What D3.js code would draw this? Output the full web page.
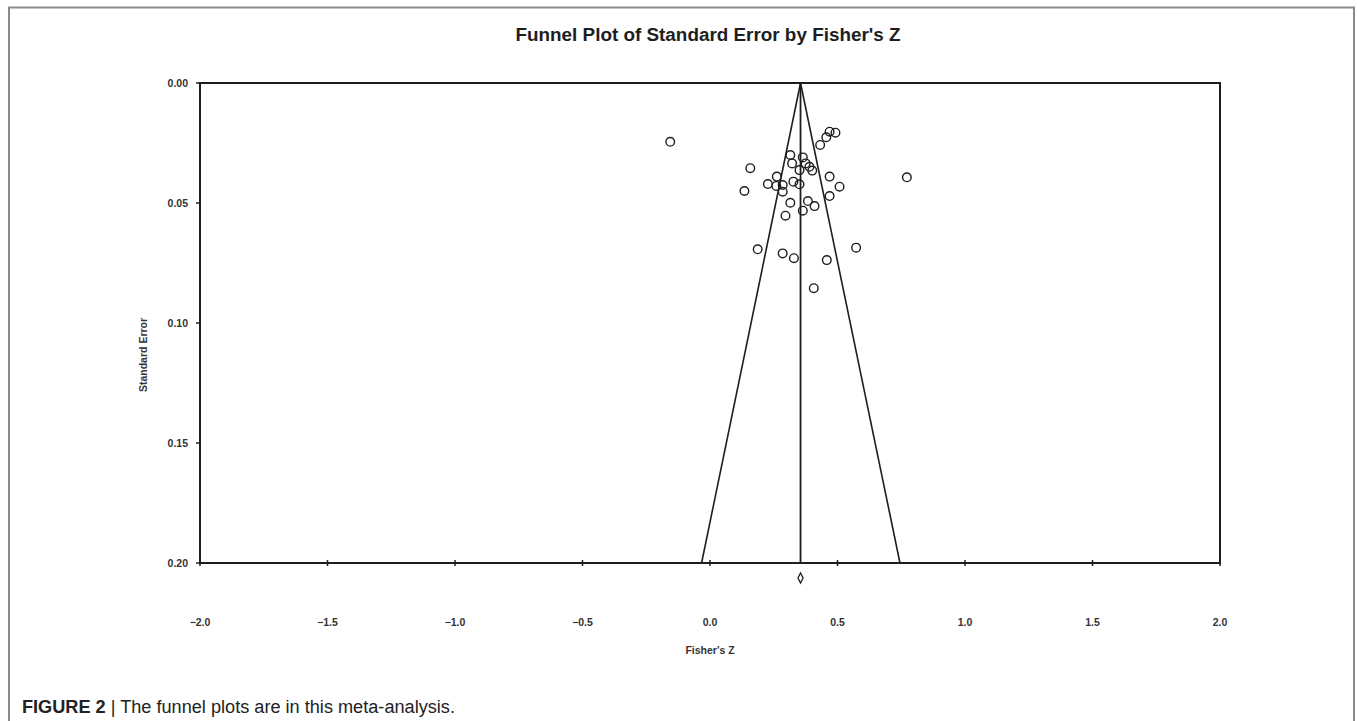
<!DOCTYPE html>
<html>
<head>
<meta charset="utf-8">
<script src="https://cdn.jsdelivr.net/npm/d3@7"></script>
<style>
  body { margin: 0; background: #fff; }
  svg { display: block; font-family: "Liberation Sans", Arial, sans-serif; }
</style>
</head>
<body>
<svg id="chart" width="1357" height="721"></svg>
<script>
// study effects (Fisher's Z) and their standard errors
const fisherZ = [0.492, 0.469, 0.456, 0.432, 0.158, 0.315, 0.322, 0.364, 0.375, 0.390,
                 0.351, 0.401, 0.469, 0.772, 0.262, 0.227, 0.260, 0.285, 0.327, 0.351,
                 0.508, 0.135, 0.285, 0.469, 0.315, 0.384, 0.410, 0.364, 0.296, 0.187,
                 0.285, 0.329, 0.573, 0.458, 0.407, -0.156];
const stdError = [0.0207, 0.0203, 0.0226, 0.0258, 0.0355, 0.0300, 0.0335, 0.0310, 0.0335, 0.0349,
                  0.0363, 0.0365, 0.0390, 0.0393, 0.0390, 0.0421, 0.0429, 0.0425, 0.0411, 0.0422,
                  0.0432, 0.0450, 0.0453, 0.0471, 0.0499, 0.0492, 0.0513, 0.0532, 0.0553, 0.0693,
                  0.0710, 0.0730, 0.0686, 0.0738, 0.0855, 0.0245];

// combined effect, its CI and the 95% funnel limits
const meanEffect = 0.355;
const meanCI = [0.345, 0.365];
const funnelSE = [0.0, 0.20];
const funnelLower = [0.355, -0.033];
const funnelUpper = [0.355, 0.745];

const xTicks = [-2.0, -1.5, -1.0, -0.5, 0.0, 0.5, 1.0, 1.5, 2.0];
const yTicks = [0.00, 0.05, 0.10, 0.15, 0.20];

const svg = d3.select("#chart");
const ink = "#1e1e1e";

// outer figure frame (open at the bottom)
svg.append("path")
    .attr("d", "M9,740 L9,7.5 L1354,7.5 L1354,740")
    .attr("fill", "none")
    .attr("stroke", "#8a8a8a")
    .attr("stroke-width", 2);

const x = d3.scaleLinear().domain([-2, 2]).range([200, 1220]);
const y = d3.scaleLinear().domain([0, 0.20]).range([83, 563]);

svg.append("text")
    .attr("x", 708)
    .attr("y", 41)
    .attr("text-anchor", "middle")
    .attr("font-size", 18)
    .attr("font-weight", "bold")
    .attr("fill", ink)
    .attr("textLength", 385)
    .attr("lengthAdjust", "spacingAndGlyphs")
    .text("Funnel Plot of Standard Error by Fisher's Z");

// plot box
svg.append("rect")
    .attr("x", x(-2))
    .attr("y", y(0))
    .attr("width", x(2) - x(-2))
    .attr("height", y(0.2) - y(0))
    .attr("fill", "none")
    .attr("stroke", ink)
    .attr("stroke-width", 2);

// y ticks and labels
svg.selectAll(".ytick").data(yTicks).enter().append("line")
    .attr("x1", x(-2) - 4).attr("x2", x(-2))
    .attr("y1", d => y(d)).attr("y2", d => y(d))
    .attr("stroke", ink).attr("stroke-width", 1.5);
svg.selectAll(".ylab").data(yTicks).enter().append("text")
    .attr("x", 188)
    .attr("y", d => y(d) + 4)
    .attr("text-anchor", "end")
    .attr("font-size", 10.5)
    .attr("font-weight", "bold")
    .attr("fill", "#333")
    .text(d => d3.format(".2f")(d));

// x ticks and labels
svg.selectAll(".xtick").data(xTicks).enter().append("line")
    .attr("x1", d => x(d)).attr("x2", d => x(d))
    .attr("y1", y(0.2) - 3).attr("y2", y(0.2) + 3)
    .attr("stroke", ink).attr("stroke-width", 1.5);
svg.selectAll(".xlab").data(xTicks).enter().append("text")
    .attr("x", d => x(d))
    .attr("y", 626)
    .attr("text-anchor", "middle")
    .attr("font-size", 10.5)
    .attr("font-weight", "bold")
    .attr("fill", "#333")
    .text(d => d3.format(".1f")(d));

svg.append("text")
    .attr("x", 710)
    .attr("y", 654)
    .attr("text-anchor", "middle")
    .attr("font-size", 10.5)
    .attr("font-weight", "bold")
    .attr("fill", "#333")
    .text("Fisher's Z");

svg.append("text")
    .attr("transform", "translate(147,355) rotate(-90)")
    .attr("text-anchor", "middle")
    .attr("font-size", 10.5)
    .attr("font-weight", "bold")
    .attr("fill", "#333")
    .text("Standard Error");

// funnel and mean line
const funnel = d3.line().x(d => x(d[0])).y(d => y(d[1]));
[funnelLower, funnelUpper].forEach(limit => {
    svg.append("path")
        .attr("d", funnel(funnelSE.map((se, i) => [limit[i], se])))
        .attr("fill", "none")
        .attr("stroke", ink)
        .attr("stroke-width", 1.6);
});
svg.append("line")
    .attr("x1", x(meanEffect)).attr("x2", x(meanEffect))
    .attr("y1", y(0)).attr("y2", y(0.2))
    .attr("stroke", ink).attr("stroke-width", 1.8);

// studies
svg.selectAll(".study").data(fisherZ).enter().append("circle")
    .attr("cx", d => x(d))
    .attr("cy", (d, i) => y(stdError[i]))
    .attr("r", 4.3)
    .attr("fill", "none")
    .attr("stroke", ink)
    .attr("stroke-width", 1.4);

// combined effect diamond under the axis
const dy = y(0.2) + 15;
svg.append("path")
    .attr("d", `M${x(meanCI[0])},${dy} L${x(meanEffect)},${dy - 5} L${x(meanCI[1])},${dy} L${x(meanEffect)},${dy + 5} Z`)
    .attr("fill", "none")
    .attr("stroke", ink)
    .attr("stroke-width", 1.3);

// caption
const cap = svg.append("text")
    .attr("x", 22)
    .attr("y", 713)
    .attr("font-size", 18)
    .attr("fill", "#222")
    .attr("textLength", 433)
    .attr("lengthAdjust", "spacingAndGlyphs");
cap.append("tspan").attr("font-weight", "bold").text("FIGURE 2");
cap.append("tspan").text("  |  The funnel plots are in this meta-analysis.");
</script>
</body>
</html>
